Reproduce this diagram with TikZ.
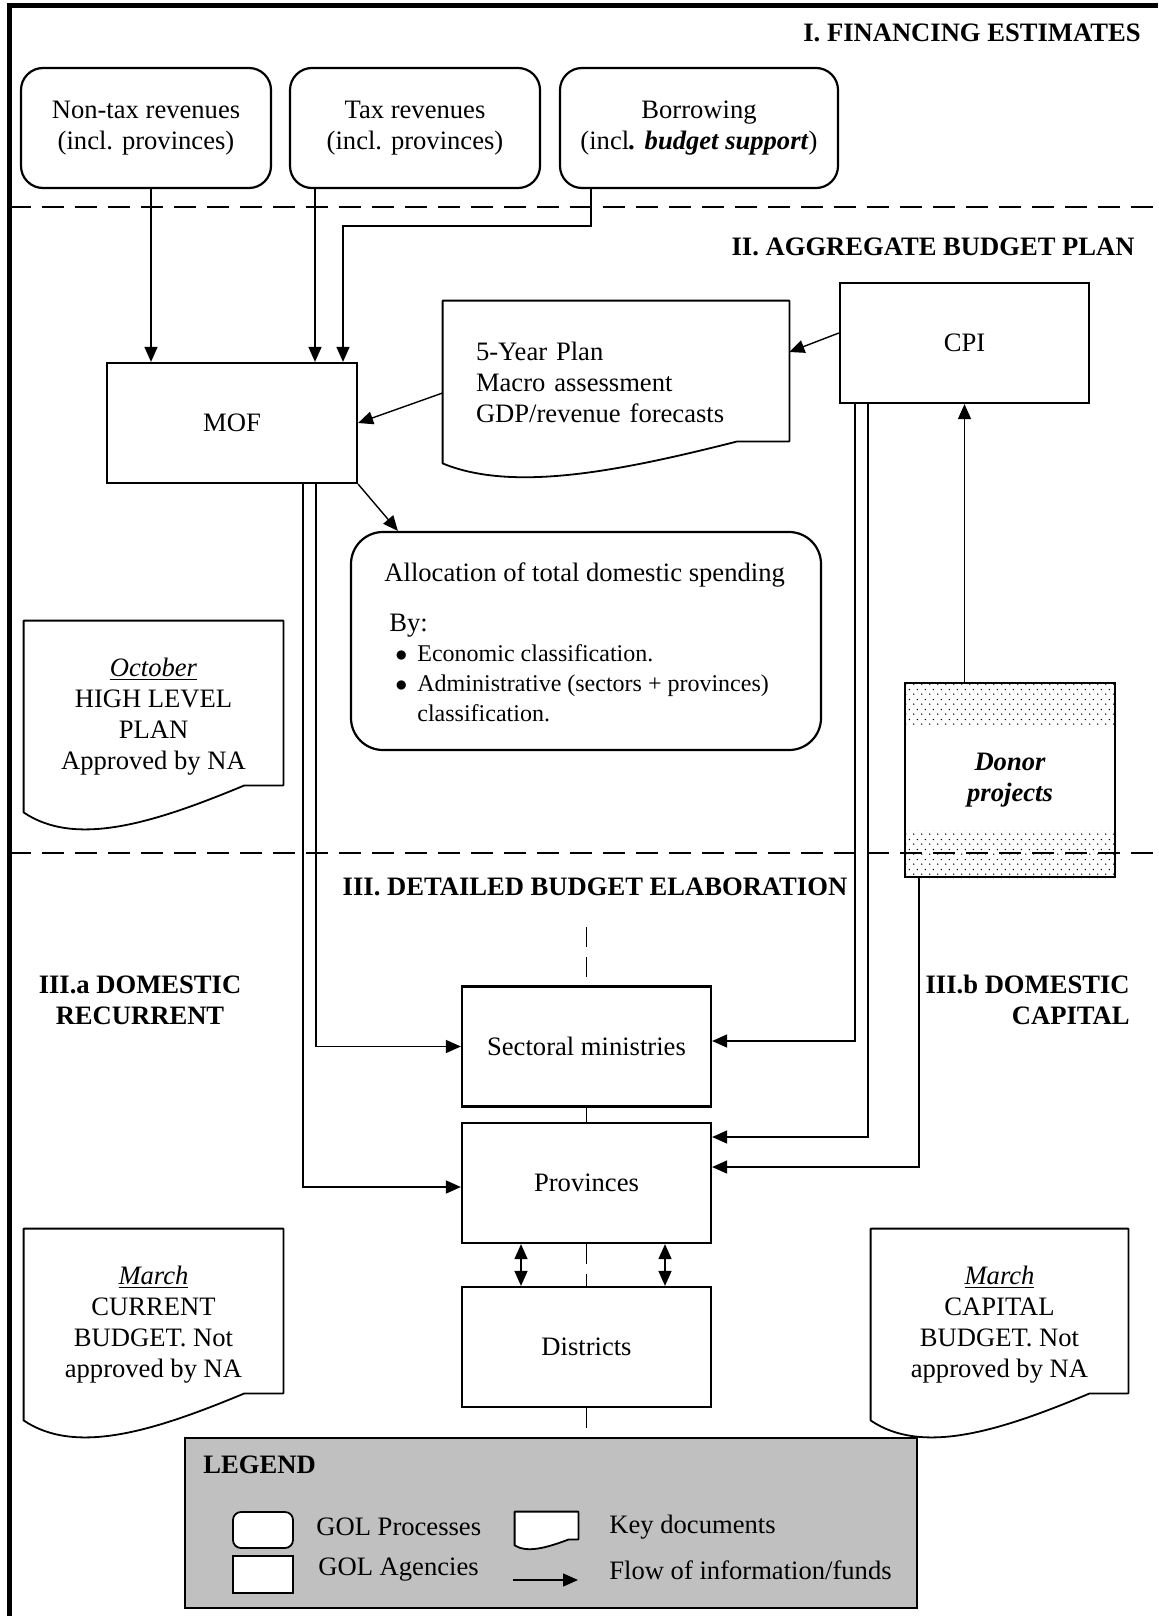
\documentclass[tikz,border=0pt]{standalone}
\usepackage{fontspec}
\setmainfont{Liberation Serif}
\usetikzlibrary{arrows.meta,calc,patterns.meta}

\definecolor{legendgray}{HTML}{C0C0C0}

\tikzdeclarepattern{
  name=donordots,
  type=uncolored,
  bounding box={(0pt,0pt) and (4pt,5pt)},
  tile size={(4pt,5pt)},
  code={\fill (1pt,1pt) circle (0.4pt); \fill (3pt,3.5pt) circle (0.4pt);}
}

\tikzset{
  procbox/.style={draw, line width=1.1pt, rounded corners=11pt, minimum width=#1, minimum height=60pt, align=center, inner sep=0pt},
  agencybox/.style={draw, line width=1.1pt, minimum width=124.5pt, minimum height=60pt, align=center, inner sep=0pt},
  docnode/.style={inner sep=0pt, align=center},
  docline/.style={line width=0.9pt, line join=round},
  flow/.style={line width=0.7pt, -{Triangle[length=7.5pt,width=6.5pt]}},
  dualflow/.style={line width=0.7pt, {Triangle[length=7.5pt,width=6.5pt]}-{Triangle[length=7.5pt,width=6.5pt]}},
  sectionline/.style={line width=1.4pt, dash pattern=on 11pt off 5.5pt},
  centreline/.style={line width=0.6pt, dash pattern=on 10pt off 5pt},
  heading/.style={font=\bfseries, inner sep=0pt},
}

% outline of a key document round a named node, wavy bottom
\newcommand{\docoutline}[3][]{%
  \draw[docline,#1] ($(#2.south east)+(0,-#3)$) -- (#2.north east) -- (#2.north west) -- (#2.south west)
    .. controls ($(#2.south west)!0.2!(#2.south east)+(0,1.3*#3)$) and ($(#2.south west)!0.5!(#2.south east)+(0,0.4*#3)$)
    .. ($(#2.south west)!0.85!(#2.south east)+(0,-#3)$) -- cycle;}

\begin{document}
\fontsize{13.3}{15.5}\selectfont
\begin{tikzpicture}[x=0.5pt,y=-0.5pt]
    \useasboundingbox (0,0) rectangle (1158,1616);

    % frame and section lines
    \draw[line width=2.5pt] (9,1616) -- (9,6) -- (1158,6);
    \draw[sectionline] (9,207) -- (1158,207);

    % I. financing estimates
    \node[heading, anchor=east] (secone) at (1141,33) {I. FINANCING ESTIMATES};
    \node[procbox=125pt] (nontax) at (146,128) {Non-tax revenues\\(incl. provinces)};
    \node[procbox=125pt] (tax) at (415,128) {Tax revenues\\(incl. provinces)};
    \node[procbox=139pt] (borrow) at (699,128) {Borrowing\\(incl\textbf{\textit{. budget support}})};

    % II. aggregate budget plan
    \node[heading, anchor=east] (sectwo) at (1135,247) {II. AGGREGATE BUDGET PLAN};
    \node[agencybox, minimum width=125pt] (mof) at (232,423) {MOF};
    \node[agencybox] (cpi) at (964.5,343) {CPI};
    \node[docnode, minimum width=173pt, minimum height=81pt, text width=140pt, inner xsep=16.5pt, align=left] (plan) at (616,382) {5-Year Plan\\Macro assessment\\GDP/revenue forecasts};
    \docoutline{plan}{22}

    \node[procbox=235pt, minimum height=109pt, rounded corners=16pt] (alloc) at (586,641) {};
    \node[anchor=west, inner sep=0pt] (alloctitle) at (384,575) {Allocation of total domestic spending};
    \node[anchor=north west, inner sep=0pt, font=\fontsize{12}{15}\selectfont] (allocby) at (389,610) {%
      \begin{tabular}{@{}l@{\hspace{5pt}}l@{}}
        \multicolumn{2}{@{}l@{}}{\fontsize{13.3}{15}\selectfont By:}\\
        \hspace{3pt}$\bullet$ & Economic classification.\\
        \hspace{3pt}$\bullet$ & Administrative (sectors + provinces)\\
        & classification.
      \end{tabular}};

    \node[docnode, minimum width=129.5pt, minimum height=95.5pt] (octplan) at (153.5,716.5) {\underline{\textit{October}}\\HIGH LEVEL\\PLAN\\Approved by NA};
    \docoutline{octplan}{27}

    \node[draw, line width=1.4pt, minimum width=105pt, minimum height=97pt, align=center, font=\bfseries\itshape] (donor) at (1010,780) {Donor\\projects};
    \fill[pattern=donordots] ([xshift=1pt,yshift=-1pt]donor.north west) rectangle ([xshift=-1pt,yshift=-23pt]donor.north east);
    \fill[pattern=donordots] ([xshift=1pt,yshift=24pt]donor.south west) rectangle ([xshift=-1pt,yshift=1pt]donor.south east);

    \draw[sectionline] (9,853) -- (1158,853);

    % III. detailed budget elaboration
    \node[heading] (secthree) at (595,887) {III. DETAILED BUDGET ELABORATION};
    \node[heading, align=center] (recurrent) at (140,1000) {III.a DOMESTIC\\RECURRENT};
    \node[heading, align=right, anchor=east] (capital) at (1130,1000) {III.b DOMESTIC\\CAPITAL};

    \node[agencybox] (sectoral) at (586.5,1046.5) {Sectoral ministries};
    \node[agencybox] (provinces) at (586.5,1183) {Provinces};
    \node[agencybox] (districts) at (586.5,1347) {Districts};

    \node[docnode, minimum width=129.5pt, minimum height=95.5pt] (curbudget) at (153.5,1324.5) {\underline{\textit{March}}\\CURRENT\\BUDGET. Not\\approved by NA};
    \docoutline{curbudget}{27}
    \node[docnode, minimum width=128.5pt, minimum height=95.5pt] (capbudget) at (999.5,1324.5) {\underline{\textit{March}}\\CAPITAL\\BUDGET. Not\\approved by NA};
    \docoutline{capbudget}{27}

    % legend
    \node[draw, line width=1.1pt, fill=legendgray, minimum width=366pt, minimum height=85pt] (legend) at (551,1523) {};
    \node[heading, anchor=west] (legendtitle) at (203,1465) {LEGEND};
    \node[draw, fill=white, line width=0.9pt, rounded corners=4pt, minimum width=30pt, minimum height=18pt] (keyproc) at (263,1530) {};
    \node[draw, fill=white, line width=0.9pt, minimum width=30pt, minimum height=18.5pt] (keyagency) at (263,1574.5) {};
    \node[docnode, minimum width=31.5pt, minimum height=16.5pt] (keydoc) at (546.5,1528.5) {};
    \docoutline[fill=white]{keydoc}{6}
    \coordinate (keyflowa) at (513,1580);
    \coordinate (keyflowb) at (578,1580);
    \draw[flow] (keyflowa) -- (keyflowb);
    \node[anchor=west, inner sep=0pt] (keyproctext) at (316,1527) {GOL Processes};
    \node[anchor=west, inner sep=0pt] (keyagencytext) at (318,1570) {GOL Agencies};
    \node[anchor=west, inner sep=0pt] (keydoctext) at (609,1527) {Key documents};
    \node[anchor=west, inner sep=0pt] (keyflowtext) at (609,1570) {Flow of information/funds};

    % centre line
    \coordinate (elabtop) at (586.5,927);
    \draw[centreline] (elabtop) -- (sectoral.north);
    \draw[line width=0.7pt] (sectoral.south) -- (provinces.north);
    \draw[centreline] (provinces.south) -- (districts.north);
    \draw[centreline] (districts.south) -- (districts.south |- legend.north);

    % flows
    \coordinate (borrowbend) at (343,226);
    \draw[flow] ([xshift=2.5pt]nontax.south) -- ([xshift=2.5pt]nontax.south |- mof.north);
    \draw[flow] ([xshift=-50pt]tax.south) -- ([xshift=-50pt]tax.south |- mof.north);
    \draw[flow] ([xshift=-54pt]borrow.south) |- (borrowbend) -- (borrowbend |- mof.north);
    \draw[flow] ([yshift=5pt]cpi.west) -- ([yshift=15pt]plan.east);
    \draw[flow] ([yshift=-5.5pt]plan.west) -- (mof.east);
    \draw[flow] (mof.south east) -- ([xshift=24pt]alloc.north west);
    \draw[flow] ([xshift=35.5pt]mof.south) |- ([yshift=-2pt]provinces.west);
    \draw[flow] ([xshift=42pt]mof.south) |- (sectoral.west);
    \draw[flow] ([xshift=-54.75pt]cpi.south) |- ([yshift=2.75pt]sectoral.east);
    \draw[flow] ([xshift=-48.25pt]cpi.south) |- ([yshift=23pt]provinces.east);
    \draw[flow] (donor.north -| cpi.south) -- (cpi.south);
    \draw[flow] ([xshift=-45.5pt]donor.south) |- ([yshift=8pt]provinces.east);
    \draw[dualflow] ([xshift=-32.75pt]provinces.south) -- ([xshift=-32.75pt]districts.north);
    \draw[dualflow] ([xshift=39.25pt]provinces.south) -- ([xshift=39.25pt]districts.north);
\end{tikzpicture}
\end{document}
